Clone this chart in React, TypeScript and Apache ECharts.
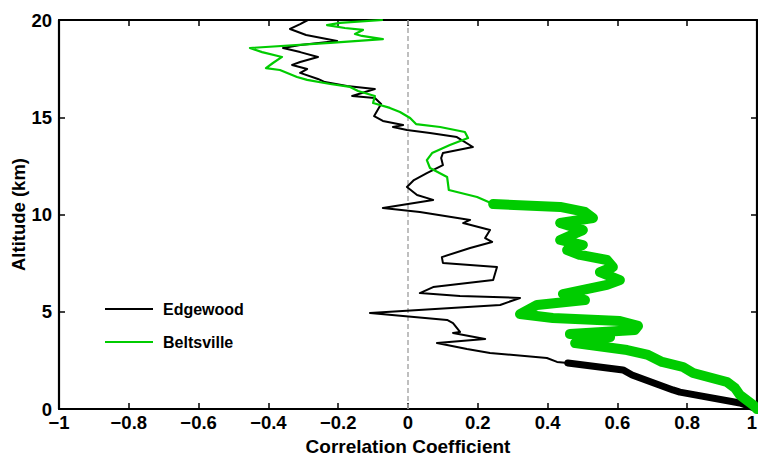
import React, { useEffect, useRef } from "react";
import * as echarts from "echarts";

// Altitude (km) and correlation coefficient, top to bottom
const edgewoodAlt = [
  20.0, 19.79, 19.54, 19.23, 18.92, 18.71, 18.56, 18.35, 18.1, 17.84, 17.69, 17.48, 17.28, 16.97, 16.81,
  16.61, 16.45, 16.09, 15.99, 15.68, 15.06, 14.81, 14.6, 14.5, 14.34, 14.19, 13.98, 13.47, 13.16, 12.9,
  12.54, 12.13, 11.77, 11.41, 11.0, 10.75, 10.33, 10.13, 9.72, 9.56, 9.2, 8.79, 8.59, 8.28, 7.81, 7.51,
  7.3, 6.63, 6.27, 5.96, 5.81, 5.71, 5.35, 4.94, 4.58, 4.42, 3.96, 3.91, 3.6, 3.39, 3.08, 2.88, 2.62,
  2.42, 2.37, 2.01, 1.75, 0.98, 0.87, 0.31, 0.0,
];
const edgewoodCorr = [
  -0.287, -0.309, -0.338, -0.292, -0.203, -0.309, -0.358, -0.309, -0.258, -0.309, -0.332, -0.289, -0.309,
  -0.258, -0.238, -0.175, -0.095, -0.16, -0.095, -0.077, -0.097, -0.072, -0.014, -0.043, -0.003, 0.063,
  0.14, 0.186, 0.1, 0.095, 0.1, 0.054, 0.017, -0.003, 0.026, 0.072, -0.072, 0.034, 0.178, 0.158, 0.235,
  0.221, 0.241, 0.178, 0.097, 0.1, 0.255, 0.244, 0.072, 0.034, 0.149, 0.321, 0.264, -0.109, 0.112, 0.129,
  0.149, 0.129, 0.221, 0.083, 0.169, 0.235, 0.398, 0.427, 0.458, 0.616, 0.642, 0.759, 0.779, 0.951, 1.0,
];
const beltsvilleAlt = [
  20.0, 19.85, 19.74, 19.59, 19.49, 19.28, 19.18, 19.02, 18.82, 18.56, 18.35, 18.1, 17.79, 17.53, 17.43,
  17.07, 16.92, 16.71, 16.56, 16.35, 16.09, 15.73, 15.48, 15.27, 14.96, 14.65, 14.5, 14.24, 13.93, 13.57,
  13.16, 12.8, 12.39, 11.93, 11.26, 10.9, 10.54, 10.39, 10.13, 9.82, 9.56, 9.2, 8.69, 8.43, 8.17, 7.92,
  7.66, 7.3, 7.04, 6.63, 6.38, 5.91, 5.6, 5.35, 4.88, 4.68, 4.52, 4.27, 4.06, 3.86, 3.7, 3.39, 3.03, 2.78,
  2.42, 2.16, 1.85, 1.39, 1.08, 0.72, 0.21, 0.0,
];
const beltsvilleCorr = [
  -0.072, -0.195, -0.232, -0.181, -0.129, -0.152, -0.132, -0.072, -0.223, -0.453, -0.418, -0.361, -0.387,
  -0.407, -0.367, -0.318, -0.289, -0.223, -0.166, -0.143, -0.095, -0.1, -0.052, -0.023, 0.006, 0.023,
  0.092, 0.163, 0.172, 0.12, 0.069, 0.054, 0.063, 0.112, 0.117, 0.198, 0.244, 0.436, 0.507, 0.53, 0.436,
  0.501, 0.436, 0.501, 0.456, 0.493, 0.57, 0.587, 0.55, 0.607, 0.57, 0.444, 0.507, 0.37, 0.321, 0.415,
  0.607, 0.659, 0.65, 0.464, 0.579, 0.479, 0.628, 0.688, 0.728, 0.788, 0.817, 0.914, 0.937, 0.951, 0.989,
  1.0,
];
// Altitudes below which each profile is drawn thick (significant part)
const edgewoodThickBelow = 2.37;
const beltsvilleThickBelow = 10.54;

const seriesNames = ["Edgewood", "Beltsville"];
const xLabelName = "Correlation Coefficient";
const yLabelName = "Altitude (km)";

const FONT = "'Liberation Sans', Arial, Helvetica, sans-serif";
const BLACK = "#000000";
const GREEN = "#00cc00";

function pairs(corr: number[], alt: number[], maxAlt = Infinity) {
  const out: number[][] = [];
  for (let i = 0; i < alt.length; i++) {
    if (alt[i] <= maxAlt) out.push([corr[i], alt[i]]);
  }
  return out;
}

function fmtX(v: number) {
  const r = Math.round(v * 10) / 10;
  if (r === 0) return "0";
  return (r < 0 ? "\u2212" : "") + String(Math.abs(r));
}

export default function App() {
  const ref = useRef<HTMLDivElement>(null);
  useEffect(() => {
    if (!ref.current) return;
    const chart = echarts.init(ref.current, null, { renderer: "svg" });
    const axisCommon = {
      axisLine: { show: true, onZero: false, lineStyle: { color: BLACK, width: 2.2 } },
      axisTick: { show: true, inside: true, length: 6, lineStyle: { color: BLACK, width: 1.5 } },
      splitLine: { show: false },
    };
    const labelStyle = { color: BLACK, fontFamily: FONT, fontWeight: "bold" as const, fontSize: 18.5 };
    chart.setOption({
      animation: false,
      backgroundColor: "#ffffff",
      grid: { left: 59, right: 1, top: 20, bottom: 49, outerBoundsMode: "none", containLabel: false },
      legend: {
        show: true,
        data: seriesNames,
        orient: "vertical",
        left: 105,
        top: 300,
        padding: 0,
        icon: "rect",
        itemWidth: 48,
        itemHeight: 2,
        itemGap: 15,
        textStyle: {
          color: BLACK,
          fontFamily: FONT,
          fontWeight: "bold",
          fontSize: 16,
          lineHeight: 18,
          padding: [0, 0, 0, 5],
        },
      },
      xAxis: [
        {
          type: "value",
          position: "bottom",
          min: -1,
          max: 1,
          interval: 0.2,
          ...axisCommon,
          axisLabel: { ...labelStyle, margin: 6, lineHeight: 14, formatter: fmtX, alignMaxLabel: "right" },
          name: xLabelName,
          nameLocation: "middle",
          nameGap: 28,
          nameMoveOverlap: false,
          nameTextStyle: { ...labelStyle, fontSize: 19 },
        },
        {
          type: "value",
          position: "top",
          min: -1,
          max: 1,
          interval: 0.2,
          ...axisCommon,
          axisLabel: { show: false },
        },
      ],
      yAxis: [
        {
          type: "value",
          position: "left",
          min: 0,
          max: 20,
          interval: 5,
          ...axisCommon,
          axisLabel: { ...labelStyle, margin: 7, lineHeight: 12 },
          name: yLabelName,
          nameLocation: "middle",
          nameGap: 31,
          nameMoveOverlap: false,
          nameTextStyle: { ...labelStyle, fontSize: 18.5 },
        },
        {
          type: "value",
          position: "right",
          min: 0,
          max: 20,
          interval: 5,
          ...axisCommon,
          axisLabel: { show: false },
        },
      ],
      series: [
        {
          name: seriesNames[0],
          type: "line",
          data: pairs(edgewoodCorr, edgewoodAlt),
          symbol: "none",
          color: BLACK,
          lineStyle: { color: BLACK, width: 2, join: "round" },
          z: 3,
          markLine: {
            silent: true,
            symbol: "none",
            label: { show: false },
            lineStyle: { color: "#aaaaaa", width: 1.5, type: [5, 3] },
            data: [{ xAxis: 0 }],
            z: 1,
          },
        },
        {
          name: seriesNames[0] + " significant",
          type: "line",
          data: pairs(edgewoodCorr, edgewoodAlt, edgewoodThickBelow),
          symbol: "none",
          color: BLACK,
          lineStyle: { color: BLACK, width: 7, join: "round", cap: "round" },
          z: 3,
        },
        {
          name: seriesNames[1],
          type: "line",
          data: pairs(beltsvilleCorr, beltsvilleAlt),
          symbol: "none",
          color: GREEN,
          lineStyle: { color: GREEN, width: 2.2, join: "round" },
          z: 4,
        },
        {
          name: seriesNames[1] + " significant",
          type: "line",
          data: pairs(beltsvilleCorr, beltsvilleAlt, beltsvilleThickBelow),
          symbol: "none",
          color: GREEN,
          lineStyle: { color: GREEN, width: 10, join: "round", cap: "round" },
          z: 4,
        },
      ],
    });
    return () => chart.dispose();
  }, []);
  return (
    <div
      ref={ref}
      style={{ position: "absolute", left: 0, top: 0, width: 758, height: 458, background: "#fff" }}
    />
  );
}
